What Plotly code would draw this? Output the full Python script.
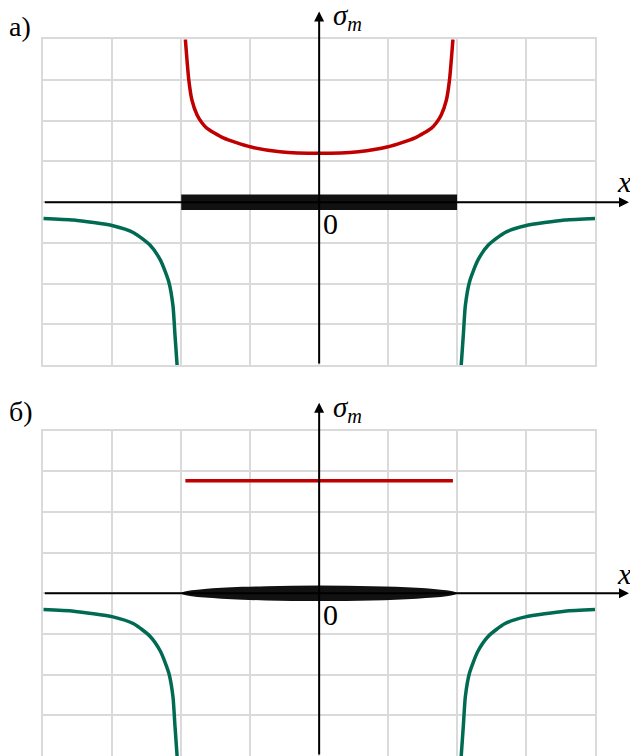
import plotly.graph_objects as go

# ─── Colours ────────────────────────────────────────────────────────────────
RED_COLOR   = "#C00000"
GREEN_COLOR = "#006B52"
GRID_COLOR  = "#DADADA"
CRACK_COLOR = "#111111"
FONT        = "Liberation Serif"

W, H = 630, 756

# ─── Data (axis units: one grid cell = 1) ───────────────────────────────────
# а) stress over the crack faces, rises to the crack tips
red_a_x = [-1.94, -1.89, -1.845, -1.77, -1.70, -1.63, -1.39, -1.0, -0.57, 0.0,
           0.57, 1.0, 1.39, 1.63, 1.70, 1.77, 1.845, 1.89, 1.94]
red_a_y = [4.0, 3.0, 2.51, 2.14, 1.95, 1.82, 1.58, 1.36, 1.24, 1.2,
           1.24, 1.36, 1.58, 1.82, 1.95, 2.14, 2.51, 3.0, 4.0]

# б) constant stress over the crack faces
red_b_x = [-1.94, 1.94]
red_b_y = [2.77, 2.77]

# stress outside the crack (same in both panels)
green_left_x  = [-4.0, -3.56, -2.99, -2.69, -2.45, -2.30, -2.18, -2.12, -2.09, -2.06]
green_left_y  = [-0.40, -0.44, -0.58, -0.75, -1.06, -1.43, -1.96, -2.54, -3.28, -4.0]
green_right_x = [2.06, 2.09, 2.12, 2.18, 2.30, 2.45, 2.69, 2.99, 3.56, 4.0]
green_right_y = [-4.0, -3.28, -2.54, -1.96, -1.43, -1.06, -0.75, -0.58, -0.44, -0.40]

# crack: flat slot in а), elliptical opening in б)
crack_x     = [-2.0, 2.0]
crack_a_h   = 0.19
crack_b_h   = 0.19

x_range = [-4, 4]
y_range = [-4, 4]

panel_labels = ["а)", "б)"]


def px_x(p):
    return p / W


def px_y(p):
    return 1 - p / H


fig = go.Figure()

# ─── traces ─────────────────────────────────────────────────────────────────
for xa, ya in (("x", "y"), ("x2", "y2")):
    fig.add_trace(go.Scatter(
        x=green_left_x, y=green_left_y, mode="lines", xaxis=xa, yaxis=ya,
        line=dict(color=GREEN_COLOR, width=3.5, shape="spline", smoothing=0.6),
        hoverinfo="skip",
    ))
    fig.add_trace(go.Scatter(
        x=green_right_x, y=green_right_y, mode="lines", xaxis=xa, yaxis=ya,
        line=dict(color=GREEN_COLOR, width=3.5, shape="spline", smoothing=0.6),
        hoverinfo="skip",
    ))

# slot in panel а)
fig.add_trace(go.Scatter(
    x=[crack_x[0], crack_x[1], crack_x[1], crack_x[0], crack_x[0]],
    y=[-crack_a_h, -crack_a_h, crack_a_h, crack_a_h, -crack_a_h],
    mode="lines", fill="toself", fillcolor=CRACK_COLOR,
    line=dict(color=CRACK_COLOR, width=0), xaxis="x", yaxis="y", hoverinfo="skip",
))

fig.add_trace(go.Scatter(
    x=red_a_x, y=red_a_y, mode="lines", xaxis="x", yaxis="y",
    line=dict(color=RED_COLOR, width=3.5, shape="spline", smoothing=0.6),
    hoverinfo="skip",
))
fig.add_trace(go.Scatter(
    x=red_b_x, y=red_b_y, mode="lines", xaxis="x2", yaxis="y2",
    line=dict(color=RED_COLOR, width=3.5), hoverinfo="skip",
))

# elliptical crack in panel б)
shapes = [dict(
    type="circle", xref="x2", yref="y2",
    x0=crack_x[0], x1=crack_x[1], y0=-crack_b_h, y1=crack_b_h,
    fillcolor=CRACK_COLOR, line=dict(width=0), layer="above",
)]

# ─── axes (arrows) and labels ───────────────────────────────────────────────
# pixel geometry of both panels: grid top, x-axis line, grid bottom
panels = [
    dict(top=39.3, axis=202.0, bottom=365.0, xref="x", yref="y"),
    dict(top=430.6, axis=593.3, bottom=756.0, xref="x2", yref="y2"),
]

annotations = []
for i, p in enumerate(panels):
    # x axis, arrow head mostly beyond the right edge
    annotations.append(dict(
        x=px_x(W + 6), y=0, xref="paper", yref=p["yref"],
        ax=-(W + 6 - 43.3), ay=0, text="", showarrow=True,
        arrowhead=2, arrowsize=1, arrowwidth=2, arrowcolor="black", standoff=0,
    ))
    # y axis with arrow on top
    tip = p["top"] - 27.8
    annotations.append(dict(
        x=0, y=px_y(tip), xref=p["xref"], yref="paper",
        ax=0, ay=p["bottom"] - tip, text="", showarrow=True,
        arrowhead=2, arrowsize=1, arrowwidth=2, arrowcolor="black", standoff=0,
    ))
    # panel letter
    annotations.append(dict(
        x=px_x(7), y=px_y(p["top"] - (13 if i == 0 else 19)), xref="paper", yref="paper",
        text=panel_labels[i], showarrow=False, xanchor="left", yanchor="middle",
        font=dict(family=FONT, size=28, color="black"),
    ))
    # sigma_m
    annotations.append(dict(
        x=px_x(331), y=px_y(p["top"] - 22), xref="paper", yref="paper",
        text="<i>σ</i><sub><i>m</i></sub>", showarrow=False,
        xanchor="left", yanchor="middle",
        font=dict(family=FONT, size=29, color="black"),
    ))
    # x label
    annotations.append(dict(
        x=px_x(615), y=px_y(p["axis"] - 20), xref="paper", yref="paper",
        text="<i>x</i>", showarrow=False, xanchor="left", yanchor="middle",
        font=dict(family=FONT, size=30, color="black"),
    ))
    # origin label
    annotations.append(dict(
        x=px_x(321), y=px_y(p["axis"] + 21), xref="paper", yref="paper",
        text="0", showarrow=False, xanchor="left", yanchor="middle",
        font=dict(family=FONT, size=30, color="black"),
    ))


def _axis(domain, anchor, rng):
    return dict(
        domain=domain, anchor=anchor, range=rng, tick0=-4, dtick=1,
        showgrid=True, gridcolor=GRID_COLOR, gridwidth=1.5,
        showline=True, linecolor=GRID_COLOR, linewidth=1.5, mirror=True,
        zeroline=False, showticklabels=False, ticks="", fixedrange=True,
    )


x_dom = [px_x(43.3), px_x(595.0)]
fig.update_layout(
    width=W, height=H,
    margin=dict(l=0, r=0, t=0, b=0),
    paper_bgcolor="white", plot_bgcolor="white",
    showlegend=False,
    xaxis=_axis(x_dom, "y", x_range),
    yaxis=_axis([px_y(365.0), px_y(39.3)], "x", y_range),
    xaxis2=_axis(x_dom, "y2", x_range),
    yaxis2=_axis([0, px_y(430.6)], "x2", y_range),
    shapes=shapes,
    annotations=annotations,
)

# page margin off so the figure sits at the window's top-left corner
fig.write_html(
    "out.html",
    config={"displayModeBar": False},
    post_script="document.body.style.margin='0';",
)
